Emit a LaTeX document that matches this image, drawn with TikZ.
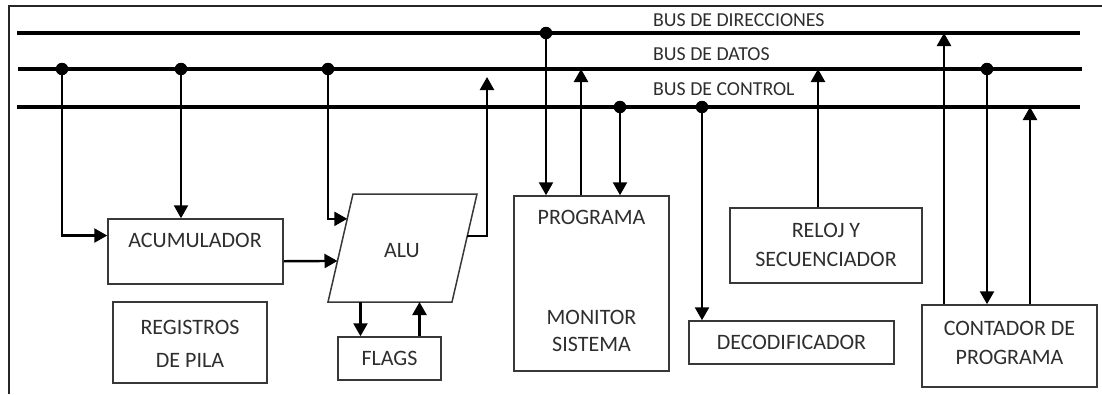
\documentclass[tikz,border=0pt]{standalone}
\usepackage{fontspec}
\setmainfont{Carlito}
\usetikzlibrary{arrows.meta,calc}
\begin{document}
\begin{tikzpicture}[x=1pt,y=-1pt,
  bus/.style={line width=3.4pt},
  wire/.style={line width=2.4pt},
  arr/.style={wire,-{Triangle[length=13pt,width=14pt]}},
  box/.style={draw=black!78,line width=1.5pt,inner sep=0pt},
  lbl/.style={text=black!82,font=\fontsize{22}{29}\selectfont,align=center,inner sep=0pt},
  buslbl/.style={text=black!82,font=\fontsize{19.8}{22}\selectfont,inner sep=0pt,anchor=west},
  dot/.style={circle,fill=black,inner sep=0pt,minimum size=12.5pt}]
\useasboundingbox (0,0) rectangle (1102,394);

% outer frame (top and left edges)
\draw[line width=1.6pt,black!85] (9,394) -- (9,6) -- (1102,6);

% buses
\coordinate (dirL) at (17,33);  \coordinate (dirR) at (1080,33);
\coordinate (datL) at (18,69);  \coordinate (datR) at (1082,69);
\coordinate (ctlL) at (17,107); \coordinate (ctlR) at (1080,107);
\draw[bus] (dirL) -- (dirR);
\draw[bus] (datL) -- (datR);
\draw[bus] (ctlL) -- (ctlR);
\node[buslbl] (ldir) at (653,20) {BUS DE DIRECCIONES};
\node[buslbl] (ldat) at (653,54) {BUS DE DATOS};
\node[buslbl] (lctl) at (653,89) {BUS DE CONTROL};

% blocks
\node[box,minimum width=175pt,minimum height=65pt] (acc) at (195.5,251.5) {};
\node[box,minimum width=154pt,minimum height=81pt] (pila) at (190,342.5) {};
\node[box,minimum width=103pt,minimum height=43pt] (flags) at (389.5,358.5) {};
\node[box,minimum width=155pt,minimum height=175pt] (prog) at (591.5,283.5) {};
\node[box,minimum width=192pt,minimum height=75pt] (reloj) at (826,245.5) {};
\node[box,minimum width=205pt,minimum height=43pt] (deco) at (791.5,342.5) {};
\node[box,minimum width=175pt,minimum height=82pt] (cont) at (1009.5,346) {};

% ALU parallelogram
\coordinate (atl) at (353,194); \coordinate (atr) at (477,194);
\coordinate (abr) at (452,302); \coordinate (abl) at (328,302);
\draw[draw=black!78,line width=1.5pt] (atl) -- (atr) -- (abr) -- (abl) -- cycle;

% texts
\node[lbl] (tacc) at (195,240) {ACUMULADOR};
\node[lbl] (tpila) at (190,343.5) {REGISTROS\\[4pt]DE PILA};
\node[lbl] (alu) at (402,251) {ALU};
\node[lbl] (tflags) at (389.5,358.5) {FLAGS};
\node[lbl] (tprog) at (591.5,217) {PROGRAMA};
\node[lbl] (tmon) at (591.5,330.5) {MONITOR\\[-2pt]SISTEMA};
\node[lbl] (treloj) at (826,244.5) {RELOJ Y\\SECUENCIADOR};
\node[lbl] (tdeco) at (791.5,342.5) {DECODIFICADOR};
\node[lbl] (tcont) at (1009.5,342.5) {CONTADOR DE\\PROGRAMA};

% bus junctions
\node[dot] (jd1) at (62,69) {};
\node[dot] (jd2) at (181,69) {};
\node[dot] (jd3) at (328,69) {};
\node[dot] (ja1) at (546,33) {};
\node[dot] (jc1) at (620,107) {};
\node[dot] (jc2) at (702,107) {};
\node[dot] (jd4) at (987,69) {};

% x positions of the upward links
\coordinate (xpu) at (581,0);
\coordinate (xr) at (818,0);
\coordinate (xc1) at (944,0);
\coordinate (xc3) at (1030,0);
\coordinate (aluup) at (487,77);

% accumulator and ALU links
\draw[arr] (jd1.center) |- ($(acc.north west)!0.26!(acc.south west)$);
\draw[arr] (jd2.center) -- (jd2 |- acc.north);
\draw[arr] (jd3.center) |- ($(atl)!0.23!(abl)$);
\draw[arr] ($(acc.north east)!0.646!(acc.south east)$) -- ($(atl)!0.62!(abl)$);
\draw[arr] ($(atr)!0.389!(abr)$) -| (aluup);
\coordinate (af1) at ($(abl)!0.262!(abr)$);
\coordinate (af2) at ($(abl)!0.738!(abr)$);
\draw[arr] (af1) -- (af1 |- flags.north);
\draw[arr] (af2 |- flags.north) -- (af2);

% program memory links
\draw[arr] (ja1.center) -- (ja1 |- prog.north);
\draw[arr] (xpu |- prog.north) -- (xpu |- datL);
\draw[arr] (jc1.center) -- (jc1 |- prog.north);

% decoder, clock and program counter links
\draw[arr] (jc2.center) -- (jc2 |- deco.north);
\draw[arr] (xr |- reloj.north) -- (xr |- datL);
\draw[arr] (xc1 |- cont.north) -- (xc1 |- dirL);
\draw[arr] (jd4.center) -- (jd4 |- cont.north);
\draw[arr] (xc3 |- cont.north) -- (xc3 |- ctlL);
\end{tikzpicture}
\end{document}
